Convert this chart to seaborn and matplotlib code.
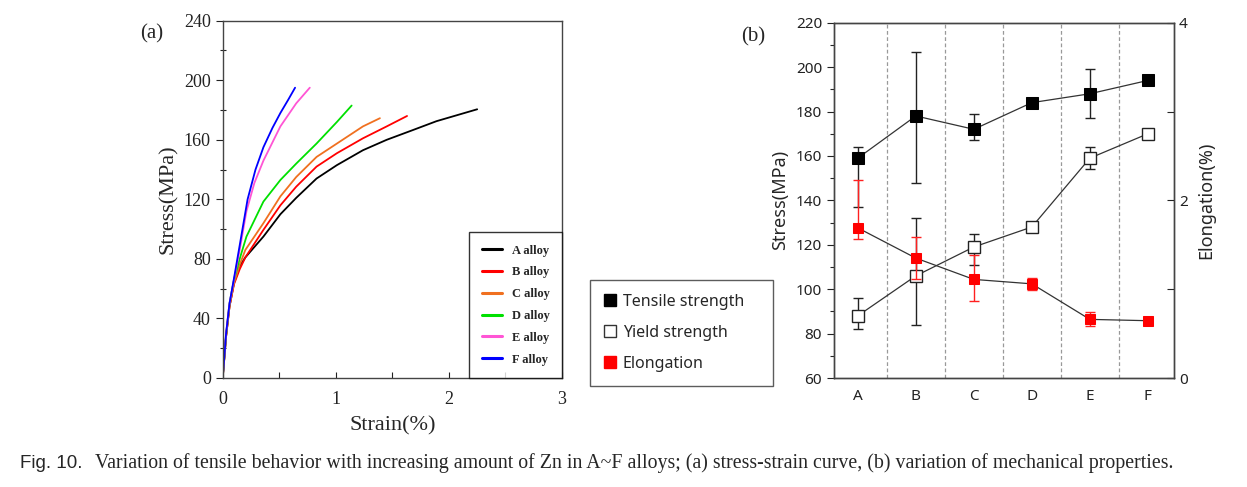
import numpy as np
import pandas as pd
import matplotlib
matplotlib.use('Agg')
import matplotlib.pyplot as plt
from matplotlib.lines import Line2D
from matplotlib.ticker import MultipleLocator
import seaborn as sns

# (a) stress-strain curves
alloys = ["A alloy", "B alloy", "C alloy", "D alloy", "E alloy", "F alloy"]
alloy_colors = ["#000000", "#ff0000", "#f07020", "#00e000", "#ff55d5", "#0000ff"]

strain_a = [0, 0.03, 0.06, 0.1, 0.15, 0.2, 0.36, 0.51, 0.65, 0.83, 1.01, 1.24, 1.45, 1.68, 1.89, 2.07, 2.25]
stress_a = [0, 28, 48, 64, 75, 81, 95, 110, 121, 134, 143, 153, 160, 166.5, 172.5, 176.5, 180.5]
strain_b = [0, 0.03, 0.06, 0.1, 0.15, 0.2, 0.36, 0.51, 0.65, 0.83, 1.01, 1.24, 1.45, 1.63]
stress_b = [0, 28, 48, 63, 73, 81, 99.5, 116, 128.5, 142, 151, 161, 169, 176]
strain_c = [0, 0.03, 0.06, 0.1, 0.15, 0.2, 0.36, 0.51, 0.65, 0.83, 1.01, 1.24, 1.39]
stress_c = [0, 28, 48, 64, 76, 86, 104, 122, 135, 148.5, 157.5, 169, 174.5]
strain_d = [0, 0.03, 0.06, 0.1, 0.15, 0.21, 0.36, 0.51, 0.65, 0.83, 1.01, 1.14]
stress_d = [0, 29, 50, 66, 80, 95, 118.5, 133, 144, 157.5, 172, 183]
strain_e = [0, 0.03, 0.06, 0.1, 0.15, 0.21, 0.28, 0.36, 0.51, 0.65, 0.77]
stress_e = [0, 30, 50, 66, 86, 112, 131, 146, 169, 184.5, 195]
strain_f = [0, 0.03, 0.06, 0.1, 0.15, 0.22, 0.29, 0.36, 0.44, 0.51, 0.58, 0.64]
stress_f = [0, 30, 50, 67, 89, 120, 140, 155, 168, 178, 187, 195]

# (b) mechanical properties
categories = ["A", "B", "C", "D", "E", "F"]
tensile = [159, 178, 172, 184, 188, 194]
tensile_lo = [22, 30, 5, 1, 11, 0]
tensile_hi = [5, 29, 7, 1, 11, 0]
yield_str = [88, 106, 119, 128, 159, 170]
yield_lo = [6, 22, 8, 1, 5, 0]
yield_hi = [8, 26, 6, 1, 5, 0]
elong = [1.69, 1.35, 1.11, 1.06, 0.66, 0.645]
elong_lo = [0.13, 0.24, 0.24, 0.07, 0.07, 0]
elong_hi = [0.54, 0.24, 0.27, 0.07, 0.08, 0]

sns.set_style("ticks")
plt.rcParams['font.family'] = ['Liberation Serif', 'DejaVu Serif']

W, H = 1247, 487
fig = plt.figure(figsize=(W / 100, H / 100), dpi=100)

# ---------- panel (a) ----------
ax1 = fig.add_axes([222.7 / W, 1 - 378 / H, (562 - 222.7) / W, (378 - 20.7) / H])
curves = []
for name, xs, ys in zip(alloys,
                        [strain_a, strain_b, strain_c, strain_d, strain_e, strain_f],
                        [stress_a, stress_b, stress_c, stress_d, stress_e, stress_f]):
    curves.append(pd.DataFrame({"strain": xs, "stress": ys, "alloy": name}))
df = pd.concat(curves, ignore_index=True)
sns.lineplot(data=df, x="strain", y="stress", hue="alloy", hue_order=alloys,
             palette=alloy_colors, sort=False, estimator=None, lw=1.3, ax=ax1)
ax1.set_xlim(0, 3)
ax1.set_ylim(0, 240)
ax1.xaxis.set_major_locator(MultipleLocator(1))
ax1.xaxis.set_minor_locator(MultipleLocator(0.5))
ax1.yaxis.set_major_locator(MultipleLocator(40))
ax1.yaxis.set_minor_locator(MultipleLocator(20))
ax1.tick_params(axis='y', which='major', direction='out', length=5, width=0.8, labelsize=13, colors='#222')
ax1.tick_params(axis='y', which='minor', direction='inout', length=5, width=0.8)
ax1.tick_params(axis='x', which='both', direction='in', length=4, width=0.8, labelsize=13,
                colors='#222', pad=9)
for s in ax1.spines.values():
    s.set_color('#444')
    s.set_linewidth(1.0)
ax1.set_xlabel("Strain(%)", fontsize=16, labelpad=6)
ax1.set_ylabel("Stress(MPa)", fontsize=16, labelpad=4)
h, l = ax1.get_legend_handles_labels()
leg = ax1.legend(h, l, loc='lower right', bbox_to_anchor=(1.0, 0.0), borderaxespad=0,
                 frameon=True, fancybox=False, edgecolor='black',
                 handlelength=1.6, handletextpad=0.8, labelspacing=0.78,
                 borderpad=1.0, prop={'family': 'Liberation Serif', 'size': 9, 'weight': 'bold'})
leg.get_frame().set_linewidth(1.0)
for line in leg.get_lines():
    line.set_linewidth(2.2)
fig.text(152 / W, 1 - 34 / H, "(a)", fontsize=15, ha='center', va='center')

# ---------- panel (b) ----------
sans = ['Noto Sans', 'DejaVu Sans']
ax2 = fig.add_axes([834 / W, 1 - 378 / H, 340 / W, (378 - 22.7) / H])
ax3 = ax2.twinx()
xpos = np.arange(len(categories))

for xs in xpos[:-1]:
    ax2.axvline(xs + 0.5, color='#999', ls=(0, (3, 2)), lw=0.9, zorder=0)

ax2.errorbar(xpos, tensile, yerr=[tensile_lo, tensile_hi], fmt='none', ecolor='#222',
             elinewidth=1.0, capsize=3.5, capthick=1.0, zorder=2)
ax2.errorbar(xpos, yield_str, yerr=[yield_lo, yield_hi], fmt='none', ecolor='#222',
             elinewidth=1.0, capsize=3.5, capthick=1.0, zorder=2)
sns.lineplot(x=xpos, y=tensile, ax=ax2, color='#333', lw=0.9, marker='s', markersize=8,
             markerfacecolor='black', markeredgecolor='black', zorder=3)
sns.lineplot(x=xpos, y=yield_str, ax=ax2, color='#333', lw=0.9, marker='s', markersize=8,
             markerfacecolor='white', markeredgecolor='#222', markeredgewidth=1.0, zorder=3)

ax3.errorbar(xpos, elong, yerr=[elong_lo, elong_hi], fmt='none', ecolor='#ff2020',
             elinewidth=1.0, capsize=3.5, capthick=1.0, zorder=2)
sns.lineplot(x=xpos, y=elong, ax=ax3, color='#333', lw=0.9, marker='s', markersize=6.5,
             markerfacecolor='#ff0000', markeredgecolor='#ff0000', zorder=3)

ax2.set_xlim(-0.41, 5.45)
ax2.set_ylim(60, 220)
ax3.set_ylim(0, 4)
ax2.set_xticks(xpos)
ax2.set_xticklabels(categories)
ax2.yaxis.set_major_locator(MultipleLocator(20))
ax2.yaxis.set_minor_locator(MultipleLocator(10))
ax3.yaxis.set_major_locator(MultipleLocator(2))
ax3.yaxis.set_minor_locator(MultipleLocator(1))
ax2.tick_params(axis='y', which='major', direction='out', length=5, width=0.8, labelsize=11, colors='#222')
ax2.tick_params(axis='y', which='minor', direction='out', length=3, width=0.8)
ax2.tick_params(axis='x', length=0, labelsize=11, colors='#222', pad=8)
ax3.tick_params(axis='y', which='major', direction='in', length=5, width=0.8, labelsize=11, colors='#222')
ax3.tick_params(axis='y', which='minor', direction='in', length=5, width=0.8)
for lab in ax2.get_xticklabels() + ax2.get_yticklabels() + ax3.get_yticklabels():
    lab.set_family(sans)
for a in (ax2, ax3):
    for s in a.spines.values():
        s.set_color('#444')
        s.set_linewidth(1.0)
ax2.set_ylabel("Stress(MPa)", fontsize=13, family=sans, labelpad=5)
ax3.set_ylabel("Elongation(%)", fontsize=13, family=sans, labelpad=7)
fig.text(753 / W, 1 - 37 / H, "(b)", fontsize=15, ha='center', va='center')

handles = [Line2D([], [], ls='none', marker='s', markersize=9, markerfacecolor='black', markeredgecolor='black'),
           Line2D([], [], ls='none', marker='s', markersize=9, markerfacecolor='white', markeredgecolor='#333'),
           Line2D([], [], ls='none', marker='s', markersize=9, markerfacecolor='#ff0000', markeredgecolor='#ff0000')]
leg2 = fig.legend(handles, ["Tensile strength", "Yield strength", "Elongation"],
                  loc='upper left', bbox_to_anchor=(590 / W, 1 - 381 / H, 183 / W, 101 / H),
                  mode='expand',
                  prop={'family': sans, 'size': 11.5}, frameon=True, fancybox=False,
                  edgecolor='#333', handlelength=0.8, handletextpad=0.4,
                  labelspacing=0.95, borderpad=0.85, borderaxespad=0)
leg2.get_frame().set_linewidth(1.0)

# caption
fig.text(20 / W, 1 - 463 / H, "Fig. 10.", fontsize=13.5, family=['Liberation Sans', 'DejaVu Sans'],
         ha='left', va='center')
fig.text(95 / W, 1 - 463 / H,
         "Variation of tensile behavior with increasing amount of Zn in A~F alloys; (a) stress-strain curve, "
         "(b) variation of mechanical properties.",
         fontsize=14.3, ha='left', va='center')

fig.savefig("out.png", dpi=100)
